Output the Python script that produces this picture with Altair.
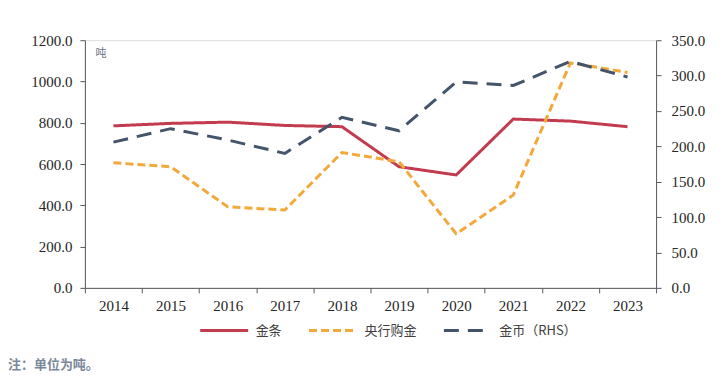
import altair as alt
import pandas as pd

years = ["2014", "2015", "2016", "2017", "2018", "2019", "2020", "2021", "2022", "2023"]
gold_bars = [785, 797, 803, 787, 781, 587, 547, 818, 808, 781]
central_bank = [606, 587, 393, 377, 656, 611, 262, 450, 1090, 1044]
gold_coins = [206, 225, 209, 190, 241, 222, 291, 286, 320, 298]

series_names = ["金条", "央行购金", "金币（RHS）"]
colors = ["#C23B4F", "#F2A93B", "#44546A"]
dashes = [[1, 0], [8, 4], [15, 9]]
left_ticks = [0, 200, 400, 600, 800, 1000, 1200]
right_ticks = [0, 50, 100, 150, 200, 250, 300, 350]
note = "注：单位为吨。"
unit = "吨"

W, H = 572, 248

left_df = pd.DataFrame({
    "year": years * 2,
    "value": gold_bars + central_bank,
    "series": [series_names[0]] * len(years) + [series_names[1]] * len(years),
})
right_df = pd.DataFrame({
    "year": years,
    "value": gold_coins,
    "series": [series_names[2]] * len(years),
})

color_scale = alt.Scale(domain=series_names, range=colors)
dash_scale = alt.Scale(domain=series_names, range=dashes)
legend = alt.Legend(
    title=None, orient="none", legendX=114, legendY=265, direction="horizontal",
    symbolType="stroke", symbolSize=2304, symbolStrokeWidth=3,
    labelFont="Noto Sans CJK SC", labelFontSize=13, labelColor="#404040",
    labelOffset=6, columnPadding=20,
)

x_enc = alt.X(
    "year:O", bandPosition=0.5, sort=years,
    scale=alt.Scale(type="band", paddingInner=0, paddingOuter=0),
    axis=alt.Axis(title=None, tickBand="extent", labelAngle=0, labelFont="Liberation Serif",
                  labelFontSize=15, labelColor="#262626", tickSize=5, labelPadding=6,
                  domainColor="#595959", tickColor="#595959", grid=False),
)

left = alt.Chart(left_df).mark_line(strokeWidth=3).encode(
    x=x_enc,
    y=alt.Y("value:Q", scale=alt.Scale(domain=[0, 1200], nice=False),
            axis=alt.Axis(title=unit, titleAngle=0, titleX=10, titleY=18, titleAlign="left",
                          titleFont="Noto Sans CJK SC", titleFontSize=11, titleFontWeight="normal",
                          titleColor="#6b7280", values=left_ticks, format=".1f",
                          labelFont="Liberation Serif", labelFontSize=15, labelColor="#262626",
                          tickSize=5, labelPadding=8, domainColor="#595959", tickColor="#595959",
                          grid=False)),
    color=alt.Color("series:N", scale=color_scale, legend=legend),
    strokeDash=alt.StrokeDash("series:N", scale=dash_scale, legend=legend),
)

right = alt.Chart(right_df).mark_line(strokeWidth=3).encode(
    x=x_enc,
    y=alt.Y("value:Q", scale=alt.Scale(domain=[0, 350], nice=False),
            axis=alt.Axis(title=None, orient="right", values=right_ticks, format=".1f",
                          labelFont="Liberation Serif", labelFontSize=15, labelColor="#262626",
                          tickSize=5, labelPadding=10, domainColor="#595959", tickColor="#595959",
                          grid=False)),
    color=alt.Color("series:N", scale=color_scale, legend=legend),
    strokeDash=alt.StrokeDash("series:N", scale=dash_scale, legend=legend),
)

note_layer = alt.Chart(pd.DataFrame({"t": [note]})).mark_text(
    align="left", baseline="middle", font="Noto Sans CJK SC", fontSize=13,
    color="#7a8799", fontWeight="bold",
).encode(x=alt.value(-77), y=alt.value(325), text="t:N")

chart = alt.layer(left, right, note_layer).resolve_scale(y="independent").properties(
    width=W, height=H,
    autosize=alt.AutoSizeParams(type="none"),
    padding={"left": 77, "top": 32, "right": 60, "bottom": 90},
).configure_view(stroke=None).configure(background="white")

chart.save("out.html", embed_options={"renderer": "svg", "actions": False})
